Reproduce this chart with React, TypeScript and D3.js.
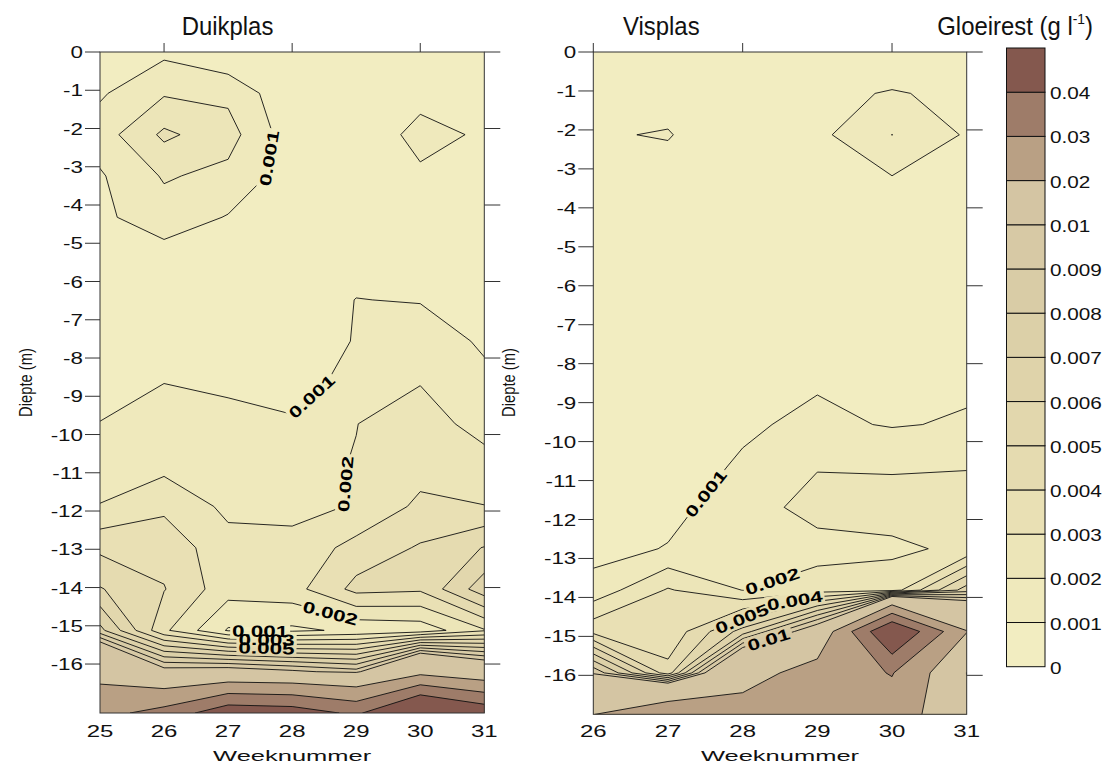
import React from "react";
import * as d3 from "d3";

// contour levels in mg/l (labels shown in g/l)
const levels = [1, 2, 3, 4, 5, 6, 7, 8, 9, 10, 20, 30, 40];
const legendTicks = ["0", "0.001", "0.002", "0.003", "0.004", "0.005", "0.006", "0.007", "0.008", "0.009", "0.01", "0.02", "0.03", "0.04"];
const bandColors = [
  "#f2edc1", "#efe9bc", "#ece5b8", "#e9e0b4", "#e5dbb0", "#e2d7ad", "#dfd3aa",
  "#dcd0a8", "#d9cca6", "#d7c9a5", "#d4c5a3", "#b9a084", "#9e7c69", "#84584e",
];

// Duikplas: weeks x depth grid (mg/l)
const duikWeeks = [25, 26, 27, 28, 29, 30, 31];
const duikDepths = [0, -1.08, -2.16, -3.24, -4.32, -5.4, -6.48, -7.56, -8.64, -9.72, -10.8, -11.88, -12.96, -14.04, -15.12, -16.2, -17.28];
const duikGrid = [
  [0.70, 0.78, 0.10, 0.30, 0.40, 0.50, 0.60],
  [0.87, 1.90, 1.77, 0.20, 0.40, 0.64, 0.60],
  [1.50, 3.20, 2.40, 0.40, 0.20, 1.35, 0.85],
  [0.89, 2.10, 1.73, 0.50, 0.40, 0.82, 0.70],
  [0.79, 1.57, 0.94, 0.40, 0.50, 0.60, 0.60],
  [0.60, 0.51, 0.50, 0.50, 0.80, 0.70, 0.60],
  [0.60, 0.60, 0.60, 0.70, 1.01, 0.97, 0.80],
  [0.60, 0.70, 0.70, 0.60, 1.04, 1.30, 0.92],
  [0.70, 0.99, 0.80, 0.70, 1.25, 1.95, 1.13],
  [1.02, 1.40, 1.34, 1.09, 1.98, 2.60, 1.50],
  [1.40, 1.70, 1.60, 1.70, 2.05, 2.57, 2.50],
  [2.05, 2.80, 1.77, 1.80, 2.05, 3.24, 3.02],
  [3.78, 3.63, 2.36, 2.22, 3.38, 4.10, 5.05],
  [5.07, 4.05, 2.41, 2.62, 4.30, 4.15, 6.60],
  [7.30, 3.20, 0.90, 0.80, 1.20, 1.39, 2.90],
  [17.0, 10.7, 11.0, 10.3, 9.50, 17.0, 12.8],
  [27.0, 33.4, 47.0, 45.5, 38.0, 58.0, 47.3],
];

// Visplas
const visWeeks = [26, 27, 28, 29, 30, 31];
const visDepths = [0, -1.0625, -2.125, -3.1875, -4.25, -5.3125, -6.375, -7.4375, -8.5, -9.5625, -10.625, -11.6875, -12.75, -13.8125, -14.875, -15.9375, -17];
const visGrid = [
  [0.60, 0.60, 0.60, 0.60, 0.50, 0.60],
  [0.70, 0.69, 0.60, 0.83, 1.05, 0.85],
  [0.93, 1.05, 0.35, 0.75, 2.01, 0.89],
  [0.70, 0.69, 0.60, 0.70, 0.99, 0.80],
  [0.60, 0.60, 0.60, 0.60, 0.70, 0.60],
  [0.60, 0.60, 0.60, 0.60, 0.60, 0.60],
  [0.60, 0.60, 0.60, 0.70, 0.70, 0.70],
  [0.60, 0.60, 0.60, 0.80, 0.80, 0.80],
  [0.60, 0.60, 0.70, 0.92, 0.80, 0.85],
  [0.55, 0.60, 0.87, 1.20, 0.93, 1.10],
  [0.55, 0.60, 1.10, 1.93, 1.90, 1.95],
  [0.60, 0.72, 1.50, 2.40, 2.38, 2.40],
  [0.67, 1.05, 1.50, 1.60, 1.83, 2.18],
  [1.37, 3.10, 1.98, 2.55, 2.48, 6.50],
  [3.70, 3.20, 6.40, 11.6, 51.6, 20.3],
  [9.80, 4.40, 15.7, 24.3, 30.5, 9.90],
  [19.8, 27.0, 24.7, 27.0, 25.0, 12.5],
];

const depthTicks = [0, -1, -2, -3, -4, -5, -6, -7, -8, -9, -10, -11, -12, -13, -14, -15, -16];
const sideTicks = [0, -2, -4, -6, -8, -10, -12, -14, -16];
const topTicks = [26, 28, 30];

// where the contour labels sit (level, week, depth)
const duikLabels = [
  { level: 1, week: 27.72, depth: -2.8 },
  { level: 1, week: 28.3, depth: -9.0 },
  { level: 2, week: 28.88, depth: -11.3 },
  { level: 2, week: 28.6, depth: -14.65 },
  { level: 1, week: 27.5, depth: -15.15 },
  { level: 3, week: 27.6, depth: -15.55 },
  { level: 5, week: 27.6, depth: -15.55 },
];
const visLabels = [
  { level: 1, week: 27.55, depth: -11.4 },
  { level: 2, week: 28.4, depth: -13.6 },
  { level: 4, week: 28.7, depth: -14.1 },
  { level: 5, week: 28.0, depth: -14.6 },
  { level: 10, week: 28.35, depth: -15.1 },
];

const FONT = "'Liberation Sans', Arial, sans-serif";

function placeLabel(contour: any, tx: number, ty: number, gi: any, gj: any, box: number[]) {
  const [left, top, right, bottom] = box;
  let best: any = null;
  contour.coordinates.forEach((poly: any) =>
    poly.forEach((ring: any) => {
      for (let k = 0; k < ring.length - 1; k++) {
        const ax = gi(ring[k][0]), ay = gj(ring[k][1]);
        const bx = gi(ring[k + 1][0]), by = gj(ring[k + 1][1]);
        const dx = bx - ax, dy = by - ay;
        const len2 = dx * dx + dy * dy;
        if (!len2) continue;
        let t = ((tx - ax) * dx + (ty - ay) * dy) / len2;
        t = Math.max(0, Math.min(1, t));
        const px = ax + t * dx, py = ay + t * dy;
        if (px < left + 1 || px > right - 1 || py < top + 1 || py > bottom - 1) continue;
        const d = (px - tx) ** 2 + (py - ty) ** 2;
        if (!best || d < best.d) best = { d, x: px, y: py, ang: (Math.atan2(dy, dx) * 180) / Math.PI };
      }
    })
  );
  if (!best) return { x: tx, y: ty, ang: 0 };
  let a = best.ang;
  if (a > 90) a -= 180;
  if (a <= -90) a += 180;
  return { x: best.x, y: best.y, ang: a };
}

function Panel({ id, weeks, depths, grid, box, title, titleX, labels, yLabelX }: any) {
  const [left, top, right, bottom] = box;
  const nx = weeks.length;
  const ny = depths.length;
  const x = d3.scaleLinear().domain([weeks[0], weeks[nx - 1]]).range([left, right]);
  const y = d3.scaleLinear().domain([depths[0], depths[ny - 1]]).range([top, bottom]);
  const gi = d3.scaleLinear().domain([0.5, nx - 0.5]).range([left, right]);
  const gj = d3.scaleLinear().domain([0.5, ny - 0.5]).range([top, bottom]);

  const values = grid.flat();
  const contours = d3.contours().size([nx, ny]).thresholds(levels)(values);
  const path = d3.geoPath(
    d3.geoTransform({
      point: function (this: any, px: number, py: number) {
        this.stream.point(gi(px), gj(py));
      },
    })
  );

  const placed = labels.map((l: any) => {
    const c = contours.find((cc: any) => cc.value === l.level);
    const p = placeLabel(c, x(l.week), y(l.depth), gi, gj, box);
    return { ...p, text: String(l.level / 1000) };
  });

  const fs = 16;
  const sx = 1.4;

  return (
    <g>
      <defs>
        <clipPath id={`clip-${id}`}>
          <rect x={left} y={top} width={right - left} height={bottom - top} />
        </clipPath>
        <mask id={`mask-${id}`} maskUnits="userSpaceOnUse" x={0} y={0} width={1108} height={765}>
          <rect x={0} y={0} width={1108} height={765} fill="white" />
          {placed.map((p: any, i: number) => {
            const w = p.text.length * 0.5 * fs * sx + 4;
            return (
              <rect
                key={i}
                x={-w / 2}
                y={-8}
                width={w}
                height={16}
                fill="black"
                transform={`translate(${p.x},${p.y}) rotate(${p.ang})`}
              />
            );
          })}
        </mask>
      </defs>

      <g clipPath={`url(#clip-${id})`}>
        <rect x={left} y={top} width={right - left} height={bottom - top} fill={bandColors[0]} />
        {contours.map((c: any, i: number) => (
          <path key={i} d={path(c) || ""} fill={bandColors[i + 1]} stroke="none" />
        ))}
        <g mask={`url(#mask-${id})`}>
          {contours.map((c: any, i: number) => (
            <path key={i} d={path(c) || ""} fill="none" stroke="#111" strokeWidth={0.9} strokeLinejoin="round" />
          ))}
        </g>
      </g>

      {placed.map((p: any, i: number) => (
        <text
          key={i}
          transform={`translate(${p.x},${p.y}) rotate(${p.ang}) scale(${sx},1)`}
          textAnchor="middle"
          dy="0.36em"
          fontFamily={FONT}
          fontSize={fs}
          fontWeight="bold"
          fill="#000"
        >
          {p.text}
        </text>
      ))}

      <rect x={left} y={top} width={right - left} height={bottom - top} fill="none" stroke="#333" strokeWidth={1} />

      {depthTicks.map((d) => (
        <g key={d}>
          <line x1={left - 15} x2={left} y1={y(d)} y2={y(d)} stroke="#333" />
          <text
            transform={`translate(${left - 17},${y(d) + 6}) scale(1.4,1)`}
            textAnchor="end"
            fontFamily={FONT}
            fontSize={16}
            fill="#111"
          >
            {String(d)}
          </text>
        </g>
      ))}
      {sideTicks.map((d) => (
        <line key={d} x1={right} x2={right + 16} y1={y(d)} y2={y(d)} stroke="#333" />
      ))}
      {topTicks.map((w) => (
        <line key={w} x1={x(w)} x2={x(w)} y1={top - 9} y2={top} stroke="#333" />
      ))}
      {weeks.map((w: number) => (
        <text
          key={w}
          transform={`translate(${x(w)},737) scale(1.5,1)`}
          textAnchor="middle"
          fontFamily={FONT}
          fontSize={16}
          fill="#111"
        >
          {w}
        </text>
      ))}
      <text
        transform={`translate(${(left + right) / 2},761) scale(1.7,1)`}
        textAnchor="middle"
        fontFamily={FONT}
        fontSize={15}
        fill="#111"
      >
        Weeknummer
      </text>
      <text
        transform={`translate(${yLabelX},${(top + 713) / 2}) rotate(-90) scale(0.82,1)`}
        textAnchor="middle"
        fontFamily={FONT}
        fontSize={18}
        fill="#111"
      >
        Diepte (m)
      </text>
      <text
        transform={`translate(${titleX},35) scale(0.92,1)`}
        textAnchor="middle"
        fontFamily={FONT}
        fontSize={26}
        fill="#111"
      >
        {title}
      </text>
    </g>
  );
}

function Legend() {
  const left = 1006.5;
  const right = 1045;
  const yb = d3.scaleLinear().domain([0, bandColors.length]).range([666.7, 48]);
  return (
    <g>
      {bandColors.map((c, i) => (
        <rect key={i} x={left} y={yb(i + 1)} width={right - left} height={yb(i) - yb(i + 1)} fill={c} stroke="#111" strokeWidth={1} />
      ))}
      {legendTicks.map((t, i) => (
        <text
          key={t}
          transform={`translate(1050,${yb(i) + 7}) scale(1.22,1)`}
          fontFamily={FONT}
          fontSize={17}
          fill="#111"
        >
          {t}
        </text>
      ))}
      <text transform="translate(1093,35) scale(0.92,1)" textAnchor="end" fontFamily={FONT} fontSize={26} fill="#111">
        Gloeirest (g l
        <tspan fontSize={15} dy={-11}>-1</tspan>
        <tspan dy={11}>)</tspan>
      </text>
    </g>
  );
}

export default function App() {
  return (
    <svg
      width={1108}
      height={765}
      style={{ position: "absolute", left: 0, top: 0, background: "#fff" }}
    >
      <rect width={1108} height={765} fill="#fff" />
      <Panel
        id="duik"
        weeks={duikWeeks}
        depths={duikDepths}
        grid={duikGrid}
        box={[100, 52, 484.3, 713]}
        title="Duikplas"
        titleX={227.5}
        labels={duikLabels}
        yLabelX={32}
      />
      <Panel
        id="vis"
        weeks={visWeeks}
        depths={visDepths}
        grid={visGrid}
        box={[593.3, 52, 966.7, 714.3]}
        title="Visplas"
        titleX={661.3}
        labels={visLabels}
        yLabelX={515}
      />
      <Legend />
    </svg>
  );
}
